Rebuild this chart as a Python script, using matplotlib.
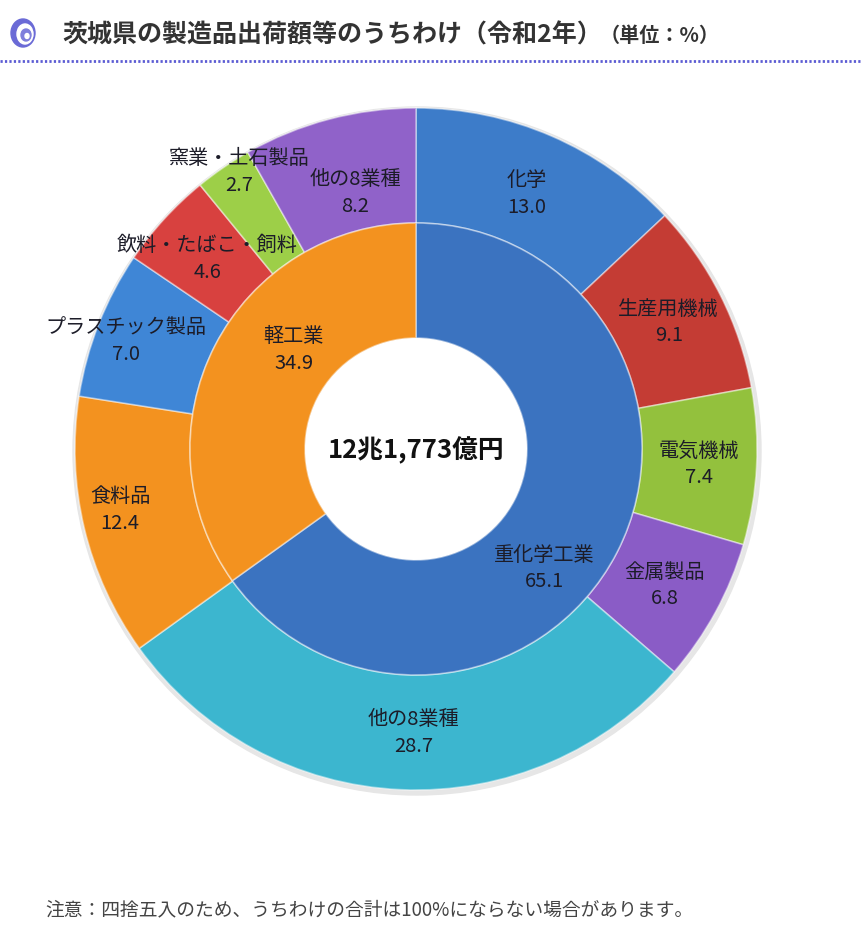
import matplotlib
matplotlib.use('Agg')
import matplotlib.pyplot as plt
import numpy as np
from matplotlib.patches import Circle, Ellipse

plt.rcParams['font.family'] = ['Noto Sans CJK JP', 'DejaVu Sans']

# data
title = '茨城県の製造品出荷額等のうちわけ（令和2年）'
unit = '（単位：%）'
note = '注意：四捨五入のため、うちわけの合計は100%にならない場合があります。'
total_text = '12兆1,773億円'

inner_labels = ['重化学工業', '軽工業']
inner_values = [65.1, 34.9]

outer_labels = ['化学', '生産用機械', '電気機械', '金属製品', '他の8業種',
                '食料品', 'プラスチック製品', '飲料・たばこ・飼料', '窯業・土石製品', '他の8業種']
outer_values = [13.0, 9.1, 7.4, 6.8, 28.7, 12.4, 7.0, 4.6, 2.7, 8.2]

# colours
inner_colors = ['#3b73c0', '#f3921f']
outer_colors = ['#3d7cc9', '#c43c34', '#93c13d', '#8a5cc6', '#3cb6cf',
                '#f3921f', '#3f86d6', '#d8413f', '#9dcf48', '#9062c9']

W, H = 861, 928
cx, cy = 416, H - 450
r_out, r_mid, r_in = 341, 226, 111

fig = plt.figure(figsize=(W / 100, H / 100), dpi=100)
ax = fig.add_axes([0, 0, 1, 1])

# soft shadow behind the rings
ax.add_patch(Circle((cx + 1, cy - 2), r_out + 3, color='#e6e6e6', zorder=0))

edge = dict(edgecolor=(1, 1, 1, 0.45), linewidth=1.2)
ax.pie(outer_values, radius=r_out, center=(cx, cy), startangle=90, counterclock=False,
       colors=outer_colors, wedgeprops=dict(width=r_out - r_mid, **edge))
ax.pie(inner_values, radius=r_mid, center=(cx, cy), startangle=90, counterclock=False,
       colors=inner_colors, wedgeprops=dict(width=r_mid - r_in, **edge))
ax.add_patch(Circle((cx, cy), r_in - 0.5, color='white', zorder=0.5))

ax.set_xlim(0, W)
ax.set_ylim(0, H)
ax.axis('off')


def mid_angles(vals):
    v = np.array(vals, dtype=float)
    c = np.cumsum(v) / v.sum()
    mids = c - v / v.sum() / 2
    return 90 - mids * 360


# label placement (radius px, angle nudge deg)
outer_pos = [(279, 0), (283, 0), (283, 0), (283, 0), (283, 2),
             (302, -2), (310, 1), (283, 0), (329, -2), (264, -1.5)]
inner_pos = [(175, -15.5), (158, -12)]

lab_kw = dict(ha='center', va='center', fontsize=14.5, color='#1c1c28', linespacing=1.35)

for lab, val, ang, (rr, da) in zip(outer_labels, outer_values, mid_angles(outer_values), outer_pos):
    a = np.radians(ang + da)
    ax.text(cx + rr * np.cos(a), cy + rr * np.sin(a), f'{lab}\n{val:.1f}', **lab_kw)

for lab, val, ang, (rr, da) in zip(inner_labels, inner_values, mid_angles(inner_values), inner_pos):
    a = np.radians(ang + da)
    x, y = cx + rr * np.cos(a), cy + rr * np.sin(a)
    ax.text(x, y, f'{lab}\n{val:.1f}', **lab_kw)

ax.text(cx, cy, total_text, ha='center', va='center', fontsize=18.5, fontweight='bold', color='#111111')

# header
ax.add_patch(Ellipse((23, H - 34), 24, 28, color='#6a6ad6', zorder=3))
ax.add_patch(Ellipse((25, H - 35), 16, 20, color='white', zorder=4))
ax.add_patch(Ellipse((26, H - 36), 10, 12, color='#7e7edc', zorder=5))
ax.add_patch(Ellipse((27, H - 37), 4, 5, color='white', zorder=6))
ax.text(62, H - 35, title, ha='left', va='center', fontsize=18, fontweight='bold', color='#333333')
ax.text(600, H - 35, unit, ha='left', va='center', fontsize=14.5, fontweight='bold', color='#333333')
ax.plot([0, W], [H - 62, H - 62], color='#5c5cd4', lw=2, linestyle=(0, (0.8, 0.8)))

ax.text(45, H - 910, note, ha='left', va='center', fontsize=13.5, color='#444444')

fig.savefig('out.png', dpi=100)
